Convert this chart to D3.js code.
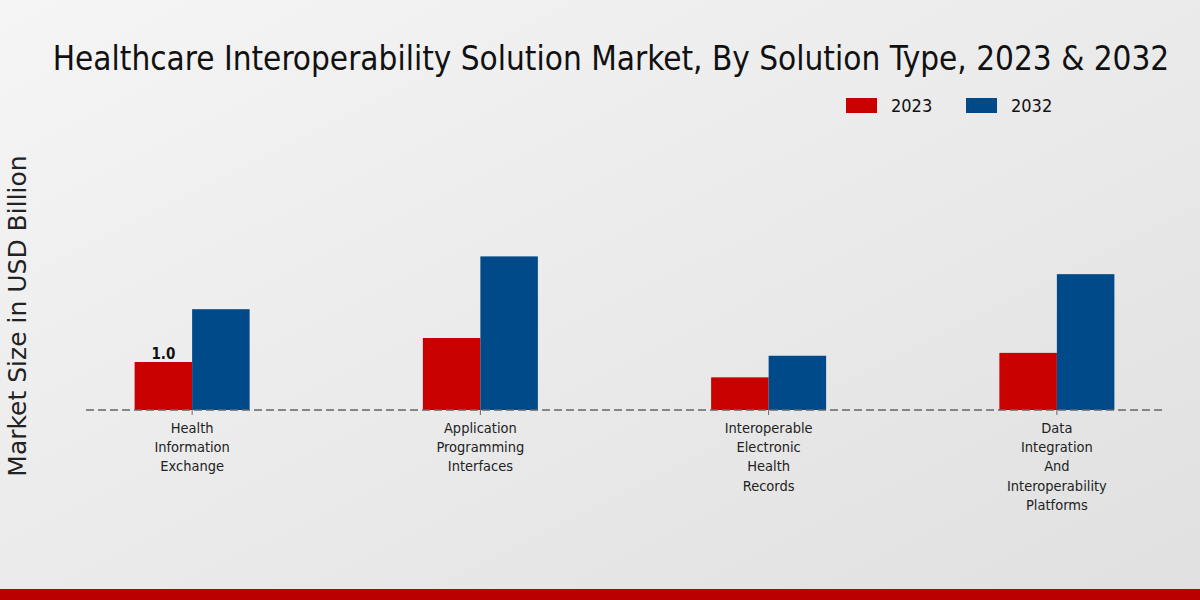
<!DOCTYPE html>
<html><head><meta charset="utf-8">
<script src="https://cdn.jsdelivr.net/npm/d3@7"></script>
<style>
html,body{margin:0;padding:0;}
body{width:1200px;height:600px;overflow:hidden;}
.cond{font-family:"DejaVu Sans Condensed","DejaVu Sans",sans-serif;font-stretch:condensed;}
</style></head>
<body>
<svg id="chart" width="1200" height="600"></svg>
<script>
const categories = ["Health Information Exchange","Application Programming Interfaces","Interoperable Electronic Health Records","Data Integration And Interoperability Platforms"];
const seriesNames = ["2023","2032"];
const values2023 = [1.0, 1.5, 0.68, 1.19];
const values2032 = [2.1, 3.2, 1.13, 2.83];
const colors = ["#c80000","#004a8a"];
const labelShown = [true,false,false,false];

const svg = d3.select("#chart");
const defs = svg.append("defs");
const grad = defs.append("linearGradient").attr("id","bg").attr("x1","0").attr("y1","0").attr("x2","1").attr("y2","1");
grad.append("stop").attr("offset","0").attr("stop-color","#f5f5f5");
grad.append("stop").attr("offset","1").attr("stop-color","#e0e0e0");
svg.append("rect").attr("width",1200).attr("height",600).attr("fill","url(#bg)");
svg.append("rect").attr("x",0).attr("y",589).attr("width",1200).attr("height",11).attr("fill","#bb0000");

svg.append("text").attr("class","cond").attr("x",611).attr("y",70).attr("text-anchor","middle")
  .attr("font-size",33).attr("fill","#111").text("Healthcare Interoperability Solution Market, By Solution Type, 2023 & 2032");

const x0 = d3.scaleBand().domain(categories).range([48,1201]).paddingInner(0).paddingOuter(0);
const x1 = d3.scaleBand().domain(seriesNames).range([0,115]);
const y = d3.scaleLinear().domain([0,5]).range([410,170]);

const data = categories.map((c,i)=>({cat:c, vals:[values2023[i],values2032[i]]}));
const g = svg.append("g");
const groups = g.selectAll("g.grp").data(data).join("g")
  .attr("transform",d=>`translate(${x0(d.cat)+x0.bandwidth()/2-57.5},0)`);
groups.selectAll("rect").data(d=>d.vals.map((v,j)=>({s:seriesNames[j],v,j}))).join("rect")
  .attr("x",d=>x1(d.s)).attr("width",x1.bandwidth()).attr("y",d=>y(d.v)).attr("height",d=>y(0)-y(d.v))
  .attr("fill",d=>colors[d.j]);

data.forEach((d,i)=>{
  if(labelShown[i]){
    svg.append("text").attr("class","cond").attr("x",x0(d.cat)+x0.bandwidth()/2-57.5+x1("2023")+x1.bandwidth()/2)
      .attr("y",y(d.vals[0])-3).attr("text-anchor","middle").attr("font-size",15).attr("font-weight","bold")
      .attr("fill","#111").text(d3.format(".1f")(d.vals[0]));
  }
});

// baseline
svg.append("line").attr("x1",86).attr("x2",1163).attr("y1",y(0)).attr("y2",y(0))
  .attr("stroke","#666").attr("stroke-width",1.5).attr("stroke-dasharray","8,4");

const axis = d3.axisBottom(x0).tickSize(5).tickFormat("");
const ag = svg.append("g").attr("transform",`translate(0,${y(0)})`).call(axis);
ag.select(".domain").remove();
ag.selectAll(".tick line").attr("stroke","#666");
ag.selectAll(".tick").each(function(d){
  const words = d.split(" ");
  const t = d3.select(this).append("text").attr("class","cond").attr("text-anchor","middle")
    .attr("fill","#222").attr("font-size",14.5);
  words.forEach((w,k)=>t.append("tspan").attr("x",0).attr("y",23+k*19.2).text(w));
});

svg.append("text").attr("transform","translate(26,316) rotate(-90)").attr("text-anchor","middle")
  .attr("font-family","DejaVu Sans, sans-serif").attr("font-size",25).attr("fill","#222")
  .text("Market Size in USD Billion");

// legend
const leg = svg.append("g");
seriesNames.forEach((s,i)=>{
  const lx = 846 + i*120;
  leg.append("rect").attr("x",lx).attr("y",98).attr("width",31).attr("height",15).attr("fill",colors[i]);
  leg.append("text").attr("class","cond").attr("x",lx+45).attr("y",112).attr("font-size",18).attr("fill","#111").text(s);
});
</script>
</body></html>
